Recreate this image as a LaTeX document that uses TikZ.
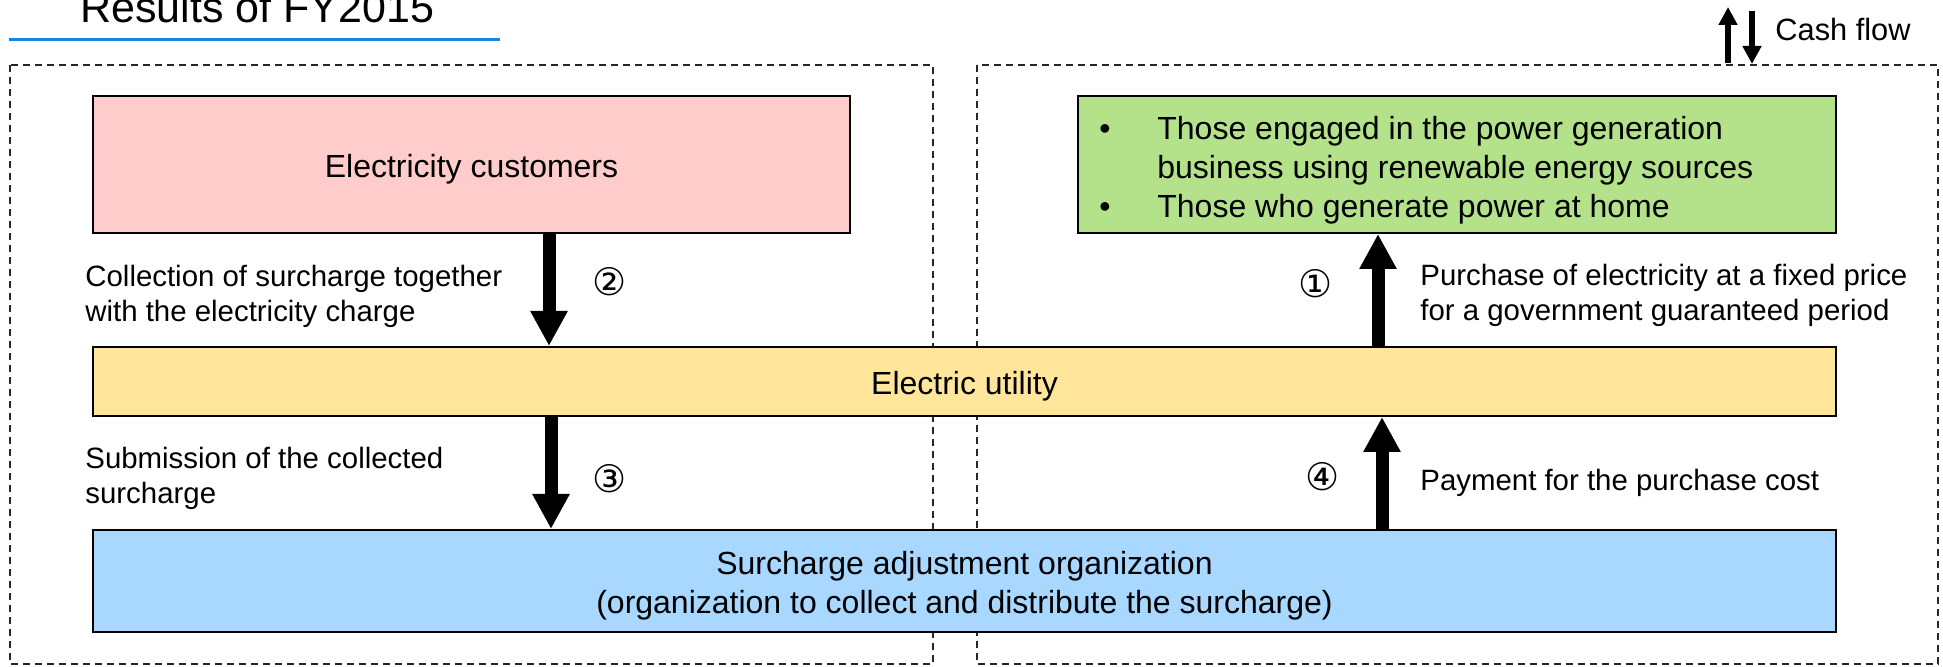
\documentclass[tikz,border=0pt]{standalone}
\usepackage{fontspec}
\setmainfont{Liberation Sans}
\newfontfamily\circfont{DejaVu Sans}
\usetikzlibrary{arrows.meta, positioning}
\usepackage{xcolor}
\definecolor{custpink}{HTML}{FFCCCC}
\definecolor{gengreen}{HTML}{B3E28B}
\definecolor{utilyellow}{HTML}{FFE69A}
\definecolor{orgblue}{HTML}{A8D7FF}
\definecolor{titleblue}{HTML}{1784E0}
\def\boxfont{\fontsize{16pt}{19.5pt}\selectfont}
\def\notefont{\fontsize{14.7pt}{17.5pt}\selectfont}

\begin{document}
\begin{tikzpicture}[x=0.5pt, y=-0.5pt]
    \tikzstyle{panel}=[draw=black!85, line width=0.9pt, dash pattern=on 3.5pt off 2.5pt]
    \tikzstyle{block}=[draw=black, line width=1pt, inner sep=0pt]
    \tikzstyle{block text}=[inner sep=0pt, font=\boxfont, align=center]
    \tikzstyle{note}=[anchor=west, inner sep=0pt, align=left, font=\notefont]
    \tikzstyle{step no}=[inner sep=0pt, font=\circfont\fontsize{19pt}{19pt}\selectfont]
    \tikzstyle{flow}=[line width=6.5pt, -{Triangle[width=17.5pt, length=17.5pt]}]
    \tikzstyle{legend flow}=[line width=3.4pt, -{Triangle[width=9pt, length=9pt]}]

    \useasboundingbox (0,0) rectangle (1943,667);

    % title
    \node[anchor=base west, inner sep=0pt, font=\fontsize{21.5pt}{25pt}\selectfont] (title) at (80,23) {Results of FY2015};
    \draw[titleblue, line width=1.5pt] (9,40) -- (500,40);

    % legend
    \node[anchor=base west, inner sep=0pt, font=\fontsize{15.4pt}{18pt}\selectfont] (cash) at (1775,41) {Cash flow};
    \coordinate (cu-a) at (1728,63);
    \coordinate (cu-b) at (1728,7);
    \coordinate (cd-a) at (1752,11);
    \coordinate (cd-b) at (1752,64);
    \draw[legend flow] (cu-a) -- (cu-b);
    \draw[legend flow] (cd-a) -- (cd-b);

    % two panels
    \draw[panel] (10,65) rectangle (933,664);
    \draw[panel] (977,65) rectangle (1938,664);

    % boxes
    \node[block, fill=custpink, minimum width=378.5pt, minimum height=68.5pt] (cust) at (471.5,164.5) {};
    \node[block, fill=gengreen, minimum width=379pt, minimum height=68.5pt] (gen) at (1457,164.5) {};
    \node[block, fill=utilyellow, minimum width=871.5pt, minimum height=34.5pt] (util) at (964.5,381.5) {};
    \node[block, fill=orgblue, minimum width=871.5pt, minimum height=51pt] (org) at (964.5,581) {};

    \node[block text] (cust-t) at ([yshift=-2.3pt]cust.center) {Electricity customers};
    \node[block text, anchor=west, align=left] (gen-t) at (1099,170)
        {\makebox[29pt][l]{\textbullet}Those engaged in the power generation\\
         \hspace*{29pt}business using renewable energy sources\\
         \makebox[29pt][l]{\textbullet}Those who generate power at home};
    \node[block text] (util-t) at ([yshift=-2.3pt]util.center) {Electric utility};
    \node[block text] (org-t) at ([yshift=-2.3pt]org.center)
        {Surcharge adjustment organization\\(organization to collect and distribute the surcharge)};

    % cash flows
    \coordinate (x2) at (549,0);
    \coordinate (x1) at (1378,0);
    \coordinate (x3) at (551,0);
    \coordinate (x4) at (1382,0);
    \draw[flow] (x2 |- cust.south) -- (x2 |- util.north);
    \draw[flow] (x1 |- util.north) -- (x1 |- gen.south);
    \draw[flow] (x3 |- util.south) -- (x3 |- org.north);
    \draw[flow] (x4 |- org.north) -- (x4 |- util.south);

    \node[step no] (n1) at (1316,284) {①};
    \node[step no] (n2) at (610,282) {②};
    \node[step no] (n3) at (610,479) {③};
    \node[step no] (n4) at (1323,477) {④};

    % labels
    \node[note] (l2) at (85,296) {Collection of surcharge together\\with the electricity charge};
    \node[note] (l3) at (85,478) {Submission of the collected\\surcharge};
    \node[note] (l1) at (1420,295.5) {Purchase of electricity at a fixed price\\for a government guaranteed period};
    \node[note] (l4) at (1420,483) {Payment for the purchase cost};
\end{tikzpicture}
\end{document}
